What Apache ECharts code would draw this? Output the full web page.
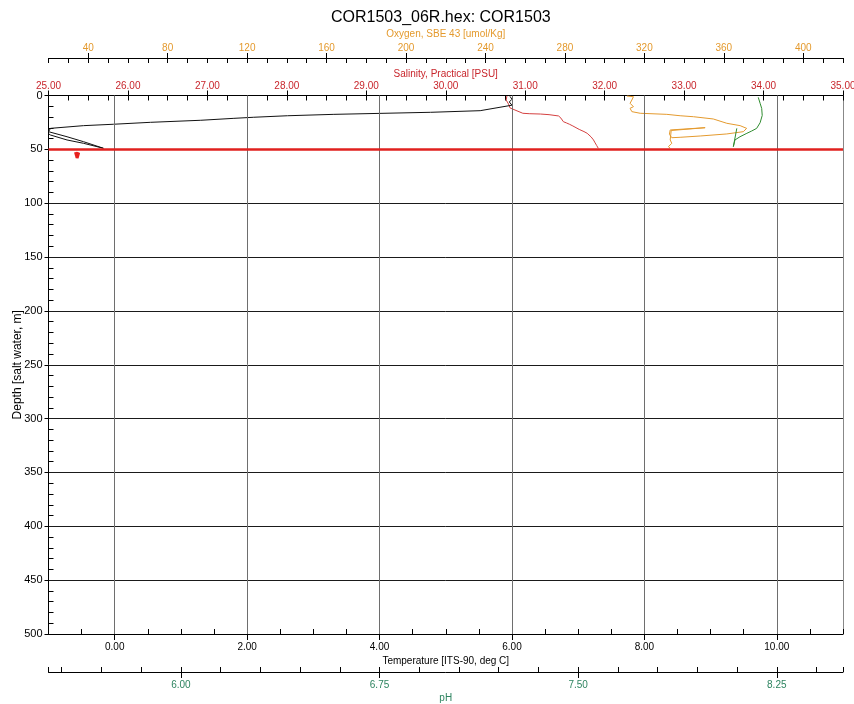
<!DOCTYPE html>
<html>
<head>
<meta charset="utf-8">
<script src="https://cdn.jsdelivr.net/npm/echarts@6/dist/echarts.min.js"></script>
<style>
  html, body { margin: 0; padding: 0; background: #fff; }
  #chart { width: 854px; height: 704px; }
</style>
</head>
<body>
<div id="chart"></div>
<script>
// temperature profile (deg C vs depth m)
var tempDegC  = [5.97, 6.00, 5.96, 6.00, 5.99, 5.52, 4.77, 3.31, 2.61, 2.10, 1.80, 1.30, 0.54, -0.02, -0.47, -0.97, -1.00, -0.97, -0.72, -0.47, -0.17, -0.15, -0.47, -0.72, -0.97, -1.00];
var tempDepth = [0.8, 3.5, 6.0, 9.0, 10.4, 14.1, 15.6, 17.5, 18.8, 20.2, 21.2, 23.0, 24.9, 26.7, 28.0, 30.5, 33.6, 35.1, 38.3, 42.9, 49.0, 49.7, 44.4, 41.3, 36.7, 35.5];

// salinity
var salPsu   = [30.77, 30.76, 30.79, 30.81, 30.97, 31.05, 31.19, 31.30, 31.42, 31.45, 31.48, 31.52, 31.56, 31.60, 31.68, 31.74, 31.78, 31.80, 31.83, 31.86, 31.88, 31.90, 31.92];
var salDepth = [0.5, 4.2, 7.9, 11.6, 16.5, 16.9, 17.2, 17.8, 19.0, 21.0, 24.3, 25.5, 26.8, 28.3, 31.5, 33.5, 35.1, 36.8, 38.5, 41.3, 44.0, 46.5, 49.0];
var spikeSal   = [25.34, 25.36, 25.38, 25.35];
var spikeDepth = [52.5, 58.0, 53.0, 57.0];
var bottomDepth = 50;

// oxygen
var oxyVal   = [311.2, 314.5, 313.7, 312.8, 314.5, 312.8, 313.7, 317.9, 331.3, 338.0, 344.7, 354.7, 361.5, 368.2, 371.5, 369.8, 361.5, 348.1, 338.0, 333.8, 332.6, 333.0, 350.6, 333.5, 333.0, 333.8, 332.1, 333.0];
var oxyDepth = [0.5, 1.1, 4.2, 7.2, 10.4, 11.9, 15.0, 16.5, 17.5, 18.8, 19.7, 21.8, 25.8, 28.0, 30.5, 33.6, 35.7, 37.6, 38.8, 39.2, 36.0, 32.0, 29.9, 32.5, 41.3, 44.4, 47.5, 49.0];

// pH
var phVal   = [8.180, 8.187, 8.193, 8.195, 8.187, 8.174, 8.155, 8.137, 8.111, 8.092, 8.086, 8.086, 8.099];
var phDepth = [1.7, 7.2, 12.0, 18.5, 25.3, 30.5, 33.0, 35.1, 38.3, 41.3, 47.5, 49.0, 30.5];

// tick labels
var oxyLabels  = [40, 80, 120, 160, 200, 240, 280, 320, 360, 400];
var tempLabels = [0, 2, 4, 6, 8, 10];
var phLabels   = [6.00, 6.75, 7.50, 8.25];
var phTicks = [5.5];
for (var v = 5.55; v < 8.45; v += 0.15) phTicks.push(+v.toFixed(2));
phTicks.push(8.5);

function zip(a, b) {
  return a.map(function (x, i) { return [x, b[i]]; });
}

var FONT = 'Liberation Sans';
var black = '#000';
var oxyColor = '#E49A2E';
var salColor = '#C8262C';
var phColor = '#2E8460';

var chart = echarts.init(document.getElementById('chart'), null, { renderer: 'canvas' });

var option = {
  animation: false,
  textStyle: { fontFamily: FONT },
  title: {
    text: 'COR1503_06R.hex: COR1503',
    left: 326,
    top: 5,
    textStyle: { fontSize: 16, fontWeight: 'normal', color: '#000', fontFamily: FONT }
  },
  grid: { left: 48.5, right: 11, top: 95.5, bottom: 70, outerBoundsMode: 'none' },
  xAxis: [
    { // 0 salinity labels
      type: 'value', position: 'top', offset: 0, min: 25, max: 35, interval: 1,
      name: 'Salinity, Practical [PSU]', nameLocation: 'middle', nameGap: 16, nameMoveOverlap: false,
      nameTextStyle: { color: salColor, fontSize: 10, fontFamily: FONT },
      axisLine: { show: true, onZero: false, lineStyle: { color: black } },
      axisTick: { show: true, inside: false, length: 5, lineStyle: { color: black } },
      axisLabel: { color: salColor, fontSize: 10, margin: 4, formatter: function (v) { return v.toFixed(2); } },
      splitLine: { show: false }
    },
    { // 1 salinity minor ticks
      type: 'value', position: 'top', offset: 0, min: 25, max: 35, interval: 1,
      axisLine: { show: false, onZero: false },
      axisTick: { show: true, inside: true, length: 5, lineStyle: { color: black } },
      minorTick: { show: true, splitNumber: 4, length: 5, lineStyle: { color: black } },
      axisLabel: { show: false },
      splitLine: { show: false }
    },
    { // 2 oxygen labels
      type: 'value', position: 'top', offset: 37.5, min: 20, max: 420,
      name: 'Oxygen, SBE 43 [umol/Kg]', nameLocation: 'middle', nameGap: 19, nameMoveOverlap: false,
      nameTextStyle: { color: oxyColor, fontSize: 10, fontFamily: FONT },
      axisLine: { show: true, onZero: false, lineStyle: { color: black } },
      axisTick: { show: true, inside: false, length: 5, customValues: oxyLabels, lineStyle: { color: black } },
      axisLabel: { color: oxyColor, fontSize: 10, margin: 5, customValues: oxyLabels },
      splitLine: { show: false }
    },
    { // 3 oxygen minor ticks
      type: 'value', position: 'top', offset: 37.5, min: 20, max: 420, interval: 10,
      axisLine: { show: false, onZero: false },
      axisTick: { show: true, inside: true, length: 5, lineStyle: { color: black } },
      axisLabel: { show: false },
      splitLine: { show: false }
    },
    { // 4 temperature labels
      type: 'value', position: 'bottom', offset: 0, min: -1, max: 11,
      name: 'Temperature [ITS-90, deg C]', nameLocation: 'middle', nameGap: 22, nameMoveOverlap: false,
      nameTextStyle: { color: '#000', fontSize: 10, fontFamily: FONT },
      axisLine: { show: true, onZero: false, lineStyle: { color: black } },
      axisTick: { show: true, inside: false, length: 6, customValues: tempLabels, lineStyle: { color: black } },
      axisLabel: { color: '#000', fontSize: 10, margin: 8, customValues: tempLabels, formatter: function (v) { return v.toFixed(2); } },
      splitLine: { show: false }
    },
    { // 5 temperature minor ticks
      type: 'value', position: 'bottom', offset: 0, min: -1, max: 11, interval: 0.5,
      axisLine: { show: false, onZero: false },
      axisTick: { show: true, inside: true, length: 5, lineStyle: { color: black } },
      axisLabel: { show: false },
      splitLine: { show: false }
    },
    { // 6 pH labels
      type: 'value', position: 'bottom', offset: 38, min: 5.5, max: 8.5,
      name: 'pH', nameLocation: 'middle', nameGap: 21, nameMoveOverlap: false,
      nameTextStyle: { color: phColor, fontSize: 10, fontFamily: FONT },
      axisLine: { show: true, onZero: false, lineStyle: { color: black } },
      axisTick: { show: true, inside: false, length: 6, customValues: phLabels, lineStyle: { color: black } },
      axisLabel: { color: phColor, fontSize: 10, margin: 8, customValues: phLabels, formatter: function (v) { return v.toFixed(2); } },
      splitLine: { show: false }
    },
    { // 7 pH minor ticks
      type: 'value', position: 'bottom', offset: 38, min: 5.5, max: 8.5,
      axisLine: { show: false, onZero: false },
      axisTick: { show: true, inside: true, length: 5, customValues: phTicks, lineStyle: { color: black } },
      axisLabel: { show: false },
      splitLine: { show: false }
    }
  ],
  yAxis: [
    { // 0 depth labels + grid
      type: 'value', position: 'left', inverse: true, min: 0, max: 500, interval: 50,
      name: 'Depth [salt water, m]', nameLocation: 'middle', nameGap: 25, nameMoveOverlap: false,
      nameTextStyle: { color: '#000', fontSize: 12, fontFamily: FONT },
      axisLine: { show: true, onZero: false, lineStyle: { color: black } },
      axisTick: { show: true, inside: false, length: 4, lineStyle: { color: black } },
      axisLabel: { color: '#000', fontSize: 11, margin: 6 },
      splitLine: { show: true, lineStyle: { color: '#1a1a1a', width: 1 } }
    },
    { // 1 depth minor ticks
      type: 'value', position: 'left', inverse: true, min: 0, max: 500, interval: 50,
      axisLine: { show: false, onZero: false },
      axisTick: { show: false, inside: true },
      minorTick: { show: true, splitNumber: 5, length: 5, lineStyle: { color: black } },
      axisLabel: { show: false },
      splitLine: { show: false }
    },
    { // 2 right border
      type: 'value', position: 'right', inverse: true, min: 0, max: 500,
      axisLine: { show: true, onZero: false, lineStyle: { color: '#888' } },
      axisTick: { show: false },
      axisLabel: { show: false },
      splitLine: { show: false }
    }
  ],
  series: [
    {
      name: 'grid', type: 'line', xAxisIndex: 4, yAxisIndex: 0, data: [], z: 1,
      markLine: {
        silent: true, symbol: ['none', 'none'], label: { show: false },
        lineStyle: { color: '#6e6e6e', type: 'solid', width: 1 },
        data: tempLabels.map(function (t) { return { xAxis: t }; })
      }
    },
    {
      name: 'Salinity', type: 'line', xAxisIndex: 0, yAxisIndex: 0, z: 3,
      data: zip(salPsu, salDepth), showSymbol: false,
      lineStyle: { color: '#D44040', width: 1 },
      markLine: {
        silent: true, symbol: ['none', 'none'], label: { show: false },
        lineStyle: { color: '#E0201E', type: 'solid', width: 2.5 },
        data: [{ yAxis: bottomDepth }]
      }
    },
    {
      name: 'SalinitySpike', type: 'line', xAxisIndex: 0, yAxisIndex: 0, z: 3,
      data: zip(spikeSal, spikeDepth), showSymbol: false,
      lineStyle: { color: '#E8201E', width: 3 }
    },
    {
      name: 'Oxygen', type: 'line', xAxisIndex: 2, yAxisIndex: 0, z: 3,
      data: zip(oxyVal, oxyDepth), showSymbol: false,
      lineStyle: { color: oxyColor, width: 1 }
    },
    {
      name: 'pH', type: 'line', xAxisIndex: 6, yAxisIndex: 0, z: 3,
      data: zip(phVal, phDepth), showSymbol: false,
      lineStyle: { color: '#2E8B2E', width: 1 }
    },
    {
      name: 'Temperature', type: 'line', xAxisIndex: 4, yAxisIndex: 0, z: 4,
      data: zip(tempDegC, tempDepth), showSymbol: false,
      lineStyle: { color: '#111', width: 1 }
    }
  ]
};

chart.setOption(option);
</script>
</body>
</html>
